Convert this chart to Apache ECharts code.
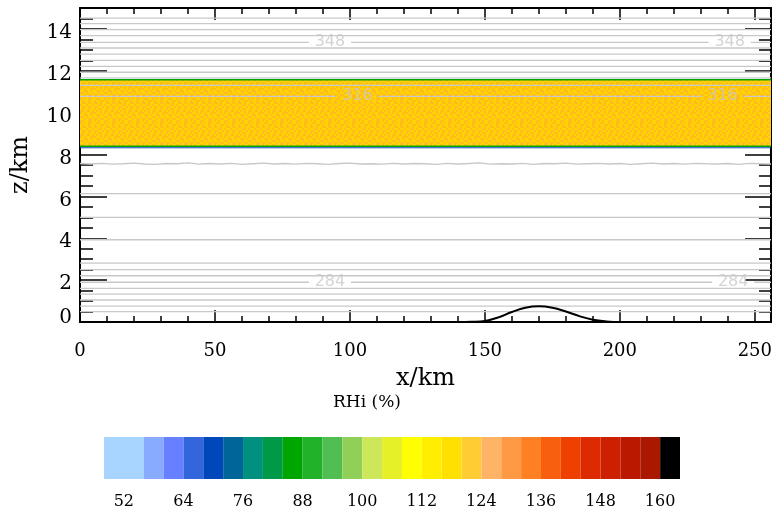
<!DOCTYPE html>
<html>
<head>
<meta charset="utf-8">
<script src="https://cdn.jsdelivr.net/npm/echarts@6/dist/echarts.min.js"></script>
<style>
  html, body { margin: 0; padding: 0; background: #ffffff; }
  #chart { width: 779px; height: 507px; }
</style>
</head>
<body>
<div id="chart"></div>
<script>
// ---- Domain (km) ----
const xMax = 256;
const zMax = 15;

// ---- Tick positions ----
const xMajorTicks = [0, 50, 100, 150, 200, 250];
const xMinorTicks = [10, 20, 30, 40, 60, 70, 80, 90, 110, 120, 130, 140, 160, 170, 180, 190, 210, 220, 230, 240];
const zMajorTicks = [0, 2, 4, 6, 8, 10, 12, 14];
const zMinorTicks = [0.5, 1, 1.5, 2.5, 3, 3.5, 4.5, 5, 5.5, 6.5, 7, 7.5, 8.5, 9, 9.5, 10.5, 11, 11.5, 12.5, 13, 13.5, 14.5];

// ---- Potential temperature contours (K) and their heights (km) ----
const thetaLevels  = [364, 360, 356, 352, 348, 344, 340, 336, 332, 328, 324, 320, 316, 308, 304, 300, 296, 292, 288, 284, 280, 276, 272, 268, 264];
const thetaHeights = [14.52, 14.25, 13.97, 13.68, 13.36, 13.09, 12.80, 12.50, 12.21, 11.93, 11.66, 11.30, 10.78, 6.13, 5.00, 3.93, 2.81, 2.50, 2.21, 1.90, 1.61, 1.33, 1.05, 0.76, 0.50];

// 312 K isentrope, sampled every 4 km along x
const theta312Level = 312;
const theta312Z = [
  7.57, 7.55, 7.58, 7.54, 7.56, 7.59, 7.55, 7.53, 7.57, 7.56, 7.60, 7.54, 7.57, 7.55, 7.58, 7.53,
  7.56, 7.59, 7.55, 7.57, 7.54, 7.58, 7.56, 7.53, 7.57, 7.59, 7.55, 7.56, 7.54, 7.58, 7.55, 7.57,
  7.56, 7.53, 7.58, 7.55, 7.57, 7.60, 7.54, 7.56, 7.55, 7.58, 7.53, 7.57, 7.56, 7.59, 7.54, 7.56,
  7.58, 7.55, 7.57, 7.53, 7.56, 7.59, 7.55, 7.57, 7.54, 7.58, 7.56, 7.55, 7.57, 7.53, 7.58, 7.56, 7.55
];
const theta312Step = 4;

// Labelled contours and label x positions (km)
const labelLevels = [348, 316, 284];
const labelXs = [[92.6, 240.7], [102.8, 238.0], [92.6, 242.0]];
const labelGap = 7.8; // half-width of the break in the line around a label (km)

// ---- Supersaturated layer ----
const layerBottom = 8.40;
const layerTop = 11.57;
const layerColors = ['#FFD400', '#FFBD1C'];   // two interleaved shades of the ~120 % class

// ---- Orography ----
const mountainX = [0, 140, 145, 150, 155, 160, 165, 170, 175, 180, 185, 190, 195, 200, 205, 256];
const mountainZ = [0, 0, 0.01, 0.05, 0.22, 0.48, 0.68, 0.75, 0.68, 0.50, 0.28, 0.11, 0.03, 0, 0, 0];

// ---- RHi colour scale (%) ----
const cbEdges = [48, 56, 60, 64, 68, 72, 76, 80, 84, 88, 92, 96, 100, 104, 108, 112, 116, 120, 124, 128, 132, 136, 140, 144, 148, 152, 156, 160, 164];
const cbColors = [
  '#A8D5FF', '#88AAFF', '#6680FF', '#3366DD', '#0047BB', '#006699', '#009080',
  '#009947', '#00A600', '#22B22A', '#50BE50', '#90D058', '#CCE85A', '#E6F028',
  '#FFFF00', '#FFEE00', '#FFE000', '#FFCC33', '#FFB366', '#FF9944', '#FF8022',
  '#F86010', '#EE4000', '#DD2A00', '#CC2000', '#BB1800', '#AA1800', '#000000'
];
const cbLabels = [52, 64, 76, 88, 100, 112, 124, 136, 148, 160];

// ---- Helpers ----
function rhiColor(v) {
  for (let i = 0; i < cbColors.length; i++) {
    if (v >= cbEdges[i] && v < cbEdges[i + 1]) return cbColors[i];
  }
  return cbColors[cbColors.length - 1];
}

// Grain tile for the layer fill: two shades interleaved in 2px cells
const grainRows = [
  'abaabbaabbab', 'bbaabababbaa', 'aabbabaabaab', 'babaabbabbab',
  'abbabaabaaba', 'baababbabbab', 'abbaabaabaab', 'bababbabbaba',
  'aabababaabbb', 'bbabaabbabaa', 'abaabbabaaba', 'babbaababbab'
];
function makeGrain() {
  const cell = 2;
  const cv = document.createElement('canvas');
  cv.width = grainRows[0].length * cell;
  cv.height = grainRows.length * cell;
  const ctx = cv.getContext('2d');
  grainRows.forEach((row, r) => {
    for (let c = 0; c < row.length; c++) {
      ctx.fillStyle = row[c] === 'a' ? layerColors[0] : layerColors[1];
      ctx.fillRect(c * cell, r * cell, cell, cell);
    }
  });
  return cv;
}
const grainTile = makeGrain();

function levelLine(z, level) {
  const li = labelLevels.indexOf(level);
  const pts = [];
  if (li < 0) {
    pts.push([0, z], [xMax, z]);
  } else {
    let x0 = 0;
    labelXs[li].forEach(lx => {
      pts.push([x0, z], [lx - labelGap, z], [lx, '-']);
      x0 = lx + labelGap;
    });
    pts.push([x0, z], [xMax, z]);
  }
  return pts;
}

const serif = '"DejaVu Serif", "Liberation Serif", serif';
const contourGray = '#C8C8C8';

// ---- Series ----
const series = [];

// Supersaturated layer
series.push({
  type: 'custom',
  xAxisIndex: 0, yAxisIndex: 0,
  silent: true, z: 1,
  data: [[0, xMax, layerBottom, layerTop]],
  renderItem: (params, api) => {
    const p0 = api.coord([api.value(0), api.value(3)]);
    const p1 = api.coord([api.value(1), api.value(2)]);
    return {
      type: 'rect',
      shape: { x: p0[0], y: p0[1], width: p1[0] - p0[0], height: p1[1] - p0[1] },
      style: { fill: { image: grainTile, repeat: 'repeat' } }
    };
  }
});

// Layer edge contours
const edgeLine = (pts, color, w) => ({
  type: 'line', xAxisIndex: 0, yAxisIndex: 0, silent: true, z: 2,
  symbol: 'none', data: pts, lineStyle: { color, width: w }
});
series.push(edgeLine([[0, layerTop], [xMax, layerTop]], rhiColor(86), 1.5));
series.push(edgeLine([[0, layerBottom], [xMax, layerBottom]], rhiColor(86), 1.5));
series.push(edgeLine([[0, layerBottom - 0.075], [xMax, layerBottom - 0.075]], rhiColor(70), 1.2));

// Isentropes
thetaLevels.forEach((lev, i) => {
  series.push({
    type: 'line', xAxisIndex: 0, yAxisIndex: 0, silent: true, z: 3,
    symbol: 'none', data: levelLine(thetaHeights[i], lev),
    lineStyle: { color: contourGray, width: 1.3 }
  });
});
series.push({
  type: 'line', xAxisIndex: 0, yAxisIndex: 0, silent: true, z: 3,
  symbol: 'none',
  data: theta312Z.map((z, i) => [i * theta312Step, z]),
  lineStyle: { color: contourGray, width: 1.4 }
});

// Isentrope labels
const labelPts = [];
labelLevels.forEach((lev, li) => {
  const z = thetaHeights[thetaLevels.indexOf(lev)];
  labelXs[li].forEach(lx => labelPts.push([lx, z, lev]));
});
series.push({
  type: 'scatter', xAxisIndex: 0, yAxisIndex: 0, silent: true, z: 4,
  symbolSize: 0, data: labelPts,
  label: {
    show: true, position: 'inside',
    formatter: p => String(p.value[2]),
    color: contourGray, fontFamily: '"DejaVu Sans", sans-serif', fontSize: 16
  }
});

// Orography
series.push({
  type: 'line', xAxisIndex: 0, yAxisIndex: 0, silent: true, z: 5,
  symbol: 'none', smooth: 0.4,
  data: mountainX.map((x, i) => [x, mountainZ[i]]),
  lineStyle: { color: '#000000', width: 2 }
});

// Colour bar cells
series.push({
  type: 'custom',
  xAxisIndex: 4, yAxisIndex: 4,
  silent: true,
  data: cbColors.map((c, i) => [cbEdges[i], cbEdges[i + 1], i]),
  renderItem: (params, api) => {
    const p0 = api.coord([api.value(0), 1]);
    const p1 = api.coord([api.value(1), 0]);
    return {
      type: 'rect',
      shape: { x: p0[0], y: p0[1], width: p1[0] - p0[0], height: p1[1] - p0[1] },
      style: { fill: cbColors[api.value(2)] }
    };
  }
});

// ---- Axes ----
const axLine = { show: true, onZero: false, lineStyle: { color: '#000', width: 2 } };
const noLine = { show: false, onZero: false };
function xAx(position, ticks, len, withLine, extra) {
  return Object.assign({
    type: 'value', gridIndex: 0, position, min: 0, max: xMax,
    axisLine: withLine ? axLine : noLine,
    axisTick: { show: true, inside: true, length: len, customValues: ticks, lineStyle: { color: '#000', width: 1.5 } },
    axisLabel: { show: false },
    splitLine: { show: false }
  }, extra || {});
}
function yAx(position, ticks, len, withLine, extra) {
  return Object.assign({
    type: 'value', gridIndex: 0, position, min: 0, max: zMax,
    axisLine: withLine ? axLine : noLine,
    axisTick: { show: true, inside: true, length: len, customValues: ticks, lineStyle: { color: '#000', width: 1.5 } },
    axisLabel: { show: false },
    splitLine: { show: false }
  }, extra || {});
}

const yLabelStyle = { color: '#000', fontFamily: serif, fontSize: 20 };

const option = {
  animation: false,
  backgroundColor: '#ffffff',
  grid: [
    { left: 80, right: 8, top: 8, bottom: 185, containLabel: false, outerBoundsMode: 'none' },
    { left: 104, width: 576, top: 437, height: 42, containLabel: false, outerBoundsMode: 'none' }
  ],
  xAxis: [
    xAx('bottom', xMajorTicks, 12, true, {
      axisLabel: { show: true, customValues: xMajorTicks, color: '#000', fontFamily: serif, fontSize: 18, margin: 20 },
      name: 'x/km', nameLocation: 'middle', nameGap: 45,
      nameTextStyle: { color: '#000', fontFamily: serif, fontSize: 24 }
    }),
    xAx('bottom', xMinorTicks, 6, false),
    xAx('top', xMajorTicks, 12, true),
    xAx('top', xMinorTicks, 6, false),
    {
      type: 'value', gridIndex: 1, position: 'bottom', min: cbEdges[0], max: cbEdges[cbEdges.length - 1],
      axisLine: { show: false }, axisTick: { show: false }, splitLine: { show: false },
      axisLabel: { show: true, customValues: cbLabels, color: '#000', fontFamily: serif, fontSize: 16, margin: 15 }
    }
  ],
  yAxis: [
    yAx('left', zMajorTicks, 27, true, {
      axisLabel: {
        show: true, customValues: zMajorTicks, color: '#000', fontFamily: serif, fontSize: 20, margin: 8,
        formatter: v => (v === 0 ? '{base|0}' : '{num|' + v + '}'),
        rich: {
          num: Object.assign({ padding: [8, 0, 0, 0] }, yLabelStyle),
          base: Object.assign({ padding: [0, 0, 8, 0] }, yLabelStyle)
        }
      },
      name: 'z/km', nameLocation: 'middle', nameGap: 47, nameRotate: 90,
      nameTextStyle: { color: '#000', fontFamily: serif, fontSize: 24 }
    }),
    yAx('left', zMinorTicks, 13, false),
    yAx('right', zMajorTicks, 26, true),
    yAx('right', zMinorTicks, 12, false),
    {
      type: 'value', gridIndex: 1, min: 0, max: 1, show: false
    }
  ],
  graphic: [
    {
      type: 'text', x: 367, y: 403,
      style: { text: 'RHi (%)', fill: '#000', font: '17px ' + serif, textAlign: 'center', textVerticalAlign: 'middle' }
    }
  ],
  series
};

const chart = echarts.init(document.getElementById('chart'), null, { renderer: 'canvas' });
chart.setOption(option);
</script>
</body>
</html>
